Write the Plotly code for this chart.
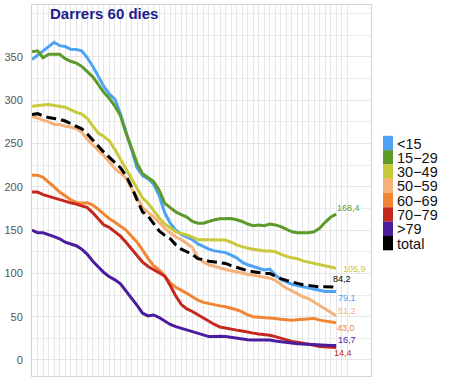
import plotly.graph_objects as go

# ---------------- data ----------------
days = list(range(56))

groups = ["<15", "15−29", "30−49", "50−59", "60−69", "70−79", ">79", "total"]

lt15 = [347, 352, 358, 363, 367, 363, 362, 359, 358.5, 357, 349, 339, 328, 316, 307, 301,
        284, 262, 243, 222, 213, 209, 203, 190, 170, 158, 150, 145, 142, 139, 134, 131,
        128, 126, 125, 124, 121, 118, 113, 110, 108, 106, 104, 105, 98, 93, 90, 87.5,
        86, 84.5, 83, 82, 80.5, 79, 79, 79.1]

g15_29 = [356, 357, 349, 353, 353, 353, 348, 345, 343, 339, 333, 327, 318, 309, 302, 293,
          282, 262, 245, 227, 215, 211, 206, 196, 181, 176, 171, 168, 165, 160, 158, 158,
          160, 162, 163, 163.5, 163.5, 162, 160, 157, 155, 156, 155, 157, 156, 154, 151, 148,
          147, 147, 147, 148, 152, 159, 165, 168.4]

g30_49 = [293, 294, 294.5, 295, 294, 293, 292, 289, 286, 284, 279, 270, 262, 258, 253, 243,
          232, 221, 210, 198, 187, 181, 172, 164, 157, 152, 148, 146, 144.5, 142, 139, 139,
          139, 139, 139, 138.5, 136, 133, 131, 129, 128, 127, 126, 126, 125, 122, 120, 118,
          117, 114.5, 113, 111.5, 110, 108.5, 107, 105.9]

g50_59 = [281, 279.5, 277, 275, 272, 272, 270, 269, 267, 263, 255, 248, 242, 236, 229, 221,
          216, 210, 198, 188, 176, 171, 165, 159, 152, 147, 142, 139, 135, 130, 118, 113,
          110, 108, 106, 104.5, 103, 101.5, 100, 99, 98, 97, 96, 94.5, 92, 87, 83, 80,
          76, 73, 71, 67, 63, 59, 55, 51.2]

g60_69 = [213.5, 213.5, 211, 206, 200, 194, 189, 185, 182, 181, 181.5, 179, 174, 168, 163, 159,
          155, 150, 143, 136, 127, 117, 109, 104, 97, 89, 84, 80, 77, 73, 69, 66.5,
          65, 64, 62.5, 61.5, 60, 58, 55.5, 52, 50, 49.5, 49.2, 49, 48, 47, 46.5, 46,
          46.5, 47, 47.5, 48, 46, 45, 44, 43.0]

g70_79 = [194, 194, 191, 189, 187, 185.5, 183.5, 181.5, 180, 178, 176, 170, 163, 156, 153, 148,
          143, 136, 128, 120, 113, 108, 104, 101, 97, 86, 74, 64, 59, 56, 52, 48,
          45, 41, 38, 36.6, 35.5, 34.5, 33.5, 32, 31, 30, 29.5, 28.5, 27, 25, 23, 21.5,
          20.5, 19.5, 18.5, 17, 15.5, 15, 14.6, 14.4]

g79p = [150, 147, 147, 145, 142.5, 140, 136, 134, 132, 128, 122, 114, 107, 101, 96, 92.5,
        88, 80, 72, 63, 54, 51, 52, 49, 45, 41, 38.5, 36.6, 35, 33, 31, 28.5,
        27, 27, 27.5, 27, 26, 25, 24, 23.5, 23, 23, 23, 23, 22, 21, 20, 19,
        18.7, 18.5, 18, 17.5, 17.3, 17, 16.8, 16.7]

total = [283.5, 284.5, 282, 280, 279, 278, 276, 273, 270, 267, 261, 254, 246, 240, 234, 228,
         222, 213, 200, 185, 171, 166, 158, 149, 144, 140, 133, 128, 125, 122, 117, 116,
         114, 113, 112, 111.5, 109, 107, 105, 103, 102, 101, 100, 100, 97, 94, 92, 90,
         88.5, 87, 86, 85, 84.5, 84.5, 84.2, 84.2]

series = [lt15, g15_29, g30_49, g50_59, g60_69, g70_79, g79p, total]

# ---------------- styles ----------------
colors = ["#4ea3f5", "#5c9a2a", "#c9c93c", "#f5b27a", "#f08534", "#c4281e", "#4a1c9e", "#000000"]
label_shift = [(0, -6.5), (-1, 6), (5, -1), (0, 4.5), (-1, -5), (-4, -5.5), (0, 5.5), (-5, 8)]

W, H = 449, 382
L, R, T, B = 32, 78, 5, 6
PW, PH = W - L - R, H - T - B


def px(x):
    return (x - L) / PW


def py(y):
    return (H - B - y) / PH


fig = go.Figure()
for name, vals, col in zip(groups, series, colors):
    fig.add_trace(go.Scatter(
        x=days, y=vals, mode="lines", name=name, showlegend=False,
        line=dict(color=col, width=3, dash="10px,5px" if name == "total" else "solid"),
    ))

annotations = []
# end labels
for vals, col, (dx, dy) in zip(series, colors, label_shift):
    annotations.append(dict(
        x=days[-1], y=vals[-1], xref="x", yref="y",
        text=f"{vals[-1]:.1f}".replace(".", ","), showarrow=False,
        xanchor="left", yanchor="middle", xshift=dx, yshift=dy,
        font=dict(family="Liberation Sans, Arial", size=9, color=col),
    ))

# title
annotations.append(dict(
    x=px(48), y=py(13), xref="paper", yref="paper", text="<b>Darrers 60 dies</b>",
    showarrow=False, xanchor="left", yanchor="middle",
    font=dict(family="Liberation Sans, Arial", size=15, color="#1c1c8c"),
))

# manual legend: colour blocks + text
shapes = []
for i, (name, col) in enumerate(zip(groups, colors)):
    cy = 143 + 14.3 * i
    shapes.append(dict(type="rect", xref="paper", yref="paper",
                       x0=px(383), x1=px(393), y0=py(cy + 7.2), y1=py(cy - 7.2),
                       fillcolor=col, line=dict(width=0)))
    annotations.append(dict(
        x=px(395), y=py(cy + 0.5), xref="paper", yref="paper", text=name,
        showarrow=False, xanchor="left", yanchor="middle", height=14,
        font=dict(family="Liberation Sans, Arial", size=14.5, color="#111111"),
    ))

fig.update_layout(
    width=W, height=H,
    margin=dict(l=L, r=R, t=T, b=B),
    paper_bgcolor="white", plot_bgcolor="white",
    annotations=annotations, shapes=shapes,
    showlegend=False,
)
fig.update_xaxes(
    range=[0, 61.3], tickmode="array", tickvals=list(range(58)), showticklabels=False,
    showgrid=True, gridcolor="#e6e6e6", gridwidth=1, zeroline=False,
    showline=True, linecolor="#d4d4d4", linewidth=1, mirror=True, ticks="",
)
fig.update_yaxes(
    range=[-18.5, 410], tickmode="array", tickvals=[0, 50, 100, 150, 200, 250, 300, 350],
    showgrid=True, gridcolor="#e6e6e6", gridwidth=1, zeroline=False,
    minor=dict(tickvals=[25, 75, 125, 175, 225, 275, 325, 375, 400], showgrid=True,
               gridcolor="#ececec", gridwidth=1),
    showline=True, linecolor="#d4d4d4", linewidth=1, mirror=True, ticks="",
    ticklabelstandoff=6,
    tickfont=dict(family="Liberation Sans, Arial", size=11, color="#555555"),
)

fig.write_html(
    "out.html",
    config={"displayModeBar": False},
    post_script="document.body.style.margin='0';document.body.style.padding='0';"
                "document.body.style.overflow='hidden';",
)
